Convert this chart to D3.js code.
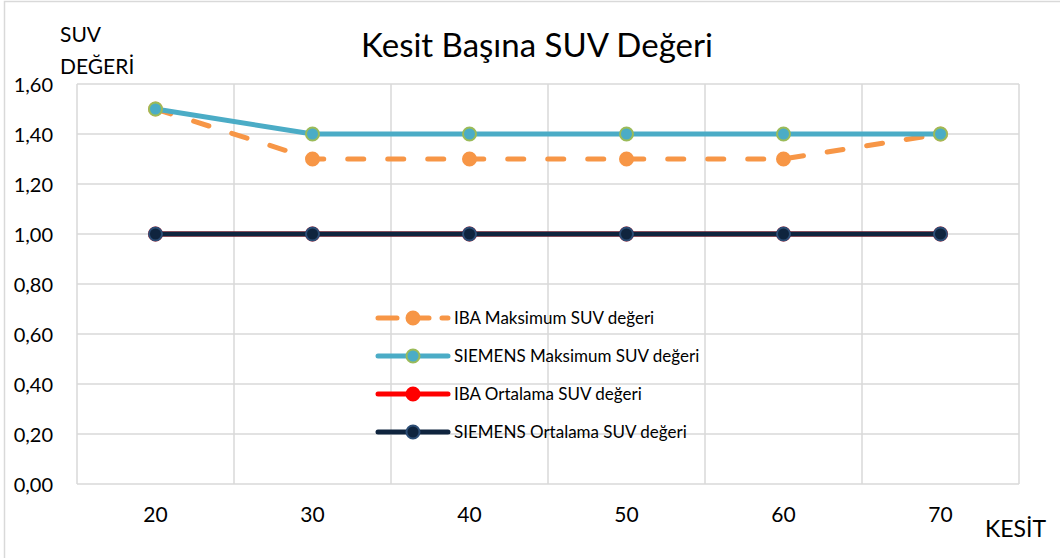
<!DOCTYPE html>
<html><head><meta charset="utf-8">
<script src="https://cdn.jsdelivr.net/npm/d3@7/dist/d3.min.js"></script>
<style>html,body{margin:0;padding:0;background:#fff;} text{font-family:Lato,"Noto Sans",sans-serif;fill:#000;}</style>
</head><body>
<svg id="c" width="1060" height="558"></svg>
<script>
const categories = ["20","30","40","50","60","70"];
const ibaMax = [1.5,1.3,1.3,1.3,1.3,1.4];
const siemensMax = [1.5,1.4,1.4,1.4,1.4,1.4];
const ibaMean = [1.0,1.0,1.0,1.0,1.0,1.0];
const siemensMean = [1.0,1.0,1.0,1.0,1.0,1.0];
const yTicks = [0,0.2,0.4,0.6,0.8,1.0,1.2,1.4,1.6];
const seriesNames = ["IBA Maksimum SUV değeri","SIEMENS Maksimum SUV değeri","IBA Ortalama SUV değeri","SIEMENS Ortalama SUV değeri"];

const series = [
  {name:seriesNames[0], values:ibaMax, color:"#F79646", mFill:"#F79646", mStroke:"#F79646", dash:"16,24"},
  {name:seriesNames[1], values:siemensMax, color:"#4BACC6", mFill:"#4BACC6", mStroke:"#9BBB59", dash:null},
  {name:seriesNames[2], values:ibaMean, color:"#FF0000", mFill:"#FF0000", mStroke:"#FF0000", dash:null},
  {name:seriesNames[3], values:siemensMean, color:"#0F243E", mFill:"#0F243E", mStroke:"#2C4D75", dash:null}
];

const svg = d3.select("#c");
const L=77,R=1019,T=84,B=484;
const x = d3.scaleBand().domain(categories).range([L,R]);
const y = d3.scaleLinear().domain([0,1.6]).range([B,T]);
const fmt = d => d3.format(".2f")(d).replace(".",",");

// outer border
svg.append("path").attr("d","M4.5,558 L4.5,1.5 L1060,1.5").attr("fill","none").attr("stroke","#D9D9D9").attr("stroke-width",1.5);

// grid
const g = svg.append("g");
g.selectAll(".hg").data(yTicks).join("line")
  .attr("x1",L).attr("x2",R).attr("y1",d=>y(d)).attr("y2",d=>y(d))
  .attr("stroke","#D9D9D9").attr("stroke-width",1.5);
const vlines = categories.map(c=>x(c)).concat([R]);
g.selectAll(".vg").data(vlines).join("line")
  .attr("x1",d=>d).attr("x2",d=>d).attr("y1",T).attr("y2",B)
  .attr("stroke","#D9D9D9").attr("stroke-width",1.5);

// y axis labels
const yAxis = d3.axisLeft(y).tickValues(yTicks).tickFormat(fmt).tickSize(0).tickPadding(0);
const ya = svg.append("g").attr("transform",`translate(53,0)`).call(yAxis);
ya.select(".domain").remove();
ya.selectAll("text").attr("font-size",20).attr("font-family","Lato").attr("fill","#000").attr("dy","0.35em");

// x axis labels
const xAxis = d3.axisBottom(x).tickSize(0).tickPadding(0);
const xa = svg.append("g").attr("transform",`translate(0,522)`).call(xAxis);
xa.select(".domain").remove();
xa.selectAll("text").attr("font-size",21).attr("font-family","Lato").attr("fill","#000").attr("dy","0");

// series
const cx = c => x(c)+x.bandwidth()/2;
series.forEach(s=>{
  const line = d3.line().x((d,i)=>cx(categories[i])).y(d=>y(d));
  svg.append("path").datum(s.values).attr("d",line).attr("fill","none")
    .attr("stroke",s.color).attr("stroke-width",5).attr("stroke-linecap","round")
    .attr("stroke-linejoin","round").attr("stroke-dasharray",s.dash);
  svg.append("g").selectAll("circle").data(s.values).join("circle")
    .attr("cx",(d,i)=>cx(categories[i])).attr("cy",d=>y(d)).attr("r",6.5)
    .attr("fill",s.mFill).attr("stroke",s.mStroke).attr("stroke-width",2);
});

// legend
const legY = [318,356,394,432];
series.forEach((s,i)=>{
  const lg = svg.append("g");
  lg.append("line").attr("x1",378).attr("x2",448).attr("y1",legY[i]).attr("y2",legY[i])
    .attr("stroke",s.color).attr("stroke-width",5).attr("stroke-linecap","round")
    .attr("stroke-dasharray",s.dash?"19,13":null);
  lg.append("circle").attr("cx",413).attr("cy",legY[i]).attr("r",6.5)
    .attr("fill",s.mFill).attr("stroke",s.mStroke).attr("stroke-width",2);
  lg.append("text").attr("x",454).attr("y",legY[i]+6).attr("font-size",17).text(s.name);
});

// titles
svg.append("text").attr("x",537).attr("y",57).attr("text-anchor","middle").attr("font-size",33).text("Kesit Başına SUV Değeri");
svg.append("text").attr("x",60).attr("y",42).attr("font-size",21).text("SUV");
svg.append("text").attr("x",60).attr("y",74).attr("font-size",21).text("DEĞERİ");
svg.append("text").attr("x",985).attr("y",537).attr("font-size",23).text("KESİT");
</script>
</body></html>
